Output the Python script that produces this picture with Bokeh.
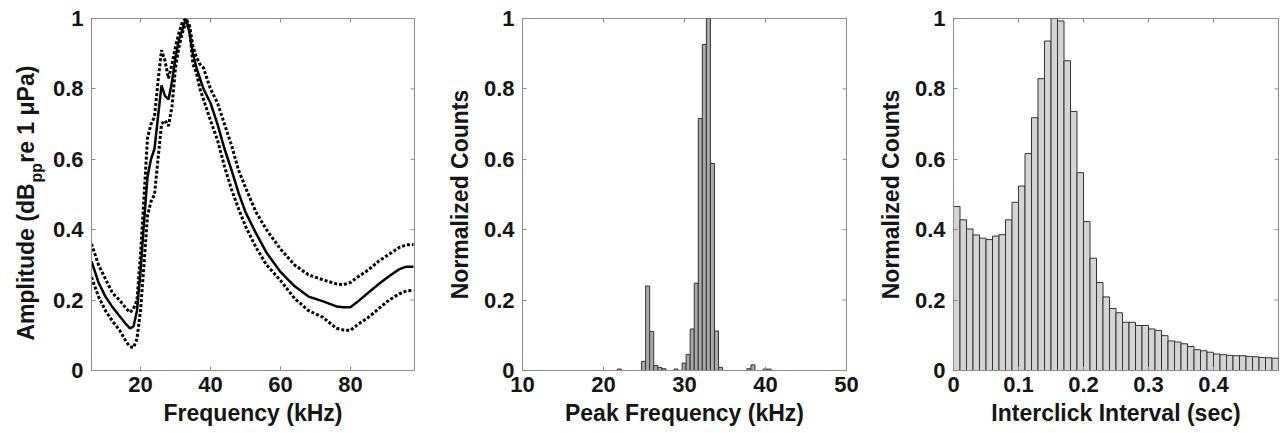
from math import pi
from bokeh.plotting import figure
from bokeh.layouts import row
from bokeh.models import Range1d, FixedTicker, CustomJSTickFormatter
from bokeh.core.properties import value
from bokeh.embed import file_html
from bokeh.resources import INLINE

# ---------------- data ----------------
freq_khz = [6, 8, 10, 12, 14, 16, 17, 18, 19, 20, 21, 22, 23, 24, 25, 26, 27, 28, 29, 30,
            31, 32, 33, 34, 35, 36, 37, 38, 40, 42, 44, 46, 48, 50, 53, 56, 60, 64, 68, 72,
            76, 78, 80, 82, 85, 88, 91, 94, 96, 98]
amp_mean = [0.31, 0.25, 0.21, 0.18, 0.155, 0.13, 0.12, 0.125, 0.17, 0.28, 0.42, 0.55, 0.60, 0.63, 0.72, 0.81, 0.78, 0.77, 0.82, 0.89,
            0.94, 0.97, 1.0, 0.96, 0.90, 0.86, 0.83, 0.80, 0.76, 0.70, 0.63, 0.57, 0.505, 0.45, 0.39, 0.335, 0.28, 0.24, 0.21, 0.197,
            0.182, 0.18, 0.18, 0.195, 0.22, 0.245, 0.268, 0.288, 0.295, 0.295]
amp_upper = [0.36, 0.30, 0.26, 0.22, 0.20, 0.175, 0.165, 0.175, 0.20, 0.33, 0.49, 0.66, 0.70, 0.72, 0.82, 0.91, 0.88, 0.83, 0.87, 0.92,
             0.96, 0.99, 1.0, 0.98, 0.92, 0.89, 0.87, 0.86, 0.80, 0.76, 0.70, 0.64, 0.57, 0.52, 0.45, 0.40, 0.345, 0.30, 0.272, 0.258,
             0.246, 0.244, 0.25, 0.265, 0.285, 0.31, 0.33, 0.35, 0.357, 0.358]
amp_lower = [0.265, 0.21, 0.17, 0.14, 0.115, 0.08, 0.068, 0.065, 0.09, 0.17, 0.30, 0.44, 0.48, 0.50, 0.60, 0.70, 0.71, 0.695, 0.75, 0.86,
             0.92, 0.96, 0.99, 0.97, 0.87, 0.845, 0.80, 0.77, 0.71, 0.655, 0.58, 0.515, 0.46, 0.41, 0.35, 0.30, 0.256, 0.205, 0.17, 0.152,
             0.12, 0.115, 0.114, 0.13, 0.15, 0.175, 0.20, 0.218, 0.226, 0.228]

peak_bin_khz = [21.95, 24.95, 25.45, 25.95, 26.45, 26.95, 27.45, 28.95, 29.95, 30.45, 30.95, 31.45,
                31.95, 32.45, 32.95, 33.45, 33.95, 34.45, 37.95, 38.45, 39.95, 40.45]
peak_counts = [0.004, 0.026, 0.24, 0.111, 0.014, 0.009, 0.005, 0.004, 0.021, 0.045, 0.118, 0.248,
               0.716, 0.926, 1.0, 0.588, 0.112, 0.009, 0.005, 0.016, 0.004, 0.004]

ici_bin_sec = [0.005, 0.015, 0.025, 0.035, 0.045, 0.055, 0.065, 0.075, 0.085, 0.095,
               0.105, 0.115, 0.125, 0.135, 0.145, 0.155, 0.165, 0.175, 0.185, 0.195,
               0.205, 0.215, 0.225, 0.235, 0.245, 0.255, 0.265, 0.275, 0.285, 0.295,
               0.305, 0.315, 0.325, 0.335, 0.345, 0.355, 0.365, 0.375, 0.385, 0.395,
               0.405, 0.415, 0.425, 0.435, 0.445, 0.455, 0.465, 0.475, 0.485, 0.495]
ici_counts = [0.466, 0.428, 0.402, 0.385, 0.376, 0.372, 0.382, 0.386, 0.428, 0.478,
              0.524, 0.616, 0.718, 0.829, 0.936, 1.0, 0.993, 0.880, 0.736, 0.562,
              0.423, 0.319, 0.250, 0.209, 0.176, 0.164, 0.137, 0.137, 0.128, 0.128,
              0.118, 0.114, 0.099, 0.084, 0.081, 0.076, 0.068, 0.059, 0.056, 0.052,
              0.047, 0.045, 0.043, 0.042, 0.042, 0.040, 0.039, 0.037, 0.036, 0.035]

y_ticks = [0, 0.2, 0.4, 0.6, 0.8, 1]
x_ticks_1 = [20, 40, 60, 80]
x_ticks_2 = [10, 20, 30, 40, 50]
x_ticks_3 = [0, 0.1, 0.2, 0.3, 0.4]

# y-axis title of panel 1, in three parts (main text, subscript, rest)
amp_title_parts = ["Amplitude (dB", "pp", "re 1 \u03bcPa)"]

# ---------------- style ----------------
FONT = "Liberation Sans"
GREY = "#8c8c8c"
TXT = "#151515"
H = 433
TOP, BOTTOM = 18, 63
fmt = CustomJSTickFormatter(code="return String(tick);")


def make_fig(width, bl, br, xr, xticks, xlabel, ylabel):
    p = figure(width=width, height=H, x_range=Range1d(*xr), y_range=Range1d(0, 1),
               output_backend="svg", toolbar_location=None,
               min_border_left=bl, min_border_right=br, min_border_top=TOP, min_border_bottom=BOTTOM,
               x_axis_label=xlabel, y_axis_label=ylabel)
    p.grid.visible = False
    p.outline_line_color = GREY
    p.outline_line_width = 1
    p.background_fill_color = "white"
    p.border_fill_color = "white"
    p.xaxis.ticker = FixedTicker(ticks=xticks)
    p.yaxis.ticker = FixedTicker(ticks=y_ticks)
    for ax in [p.xaxis[0], p.yaxis[0]]:
        ax.formatter = fmt
        ax.axis_line_color = GREY
        ax.major_tick_line_color = GREY
        ax.major_tick_in = 4
        ax.major_tick_out = 0
        ax.minor_tick_line_color = None
        ax.major_label_text_font = FONT
        ax.major_label_text_font_style = "bold"
        ax.major_label_text_font_size = "22px"
        ax.major_label_text_color = TXT
        ax.axis_label_text_font = FONT
        ax.axis_label_text_font_style = "bold"
        ax.axis_label_text_font_size = "23px"
        ax.axis_label_text_color = TXT
    p.xaxis.major_label_standoff = 6
    p.xaxis.axis_label_standoff = 5
    p.yaxis.major_label_standoff = 8
    p.yaxis.axis_label_standoff = 8
    # mirrored inward ticks on the top and right edges of the box
    x0, x1 = xr
    p.scatter(x=[x1] * len(y_ticks), y=y_ticks, marker="dash", size=8,
              line_color=GREY, line_width=1)
    p.scatter(x=xticks, y=[1] * len(xticks), marker="dash", angle=pi / 2, size=8,
              line_color=GREY, line_width=1)
    return p


# Narrow strip holding the composite y-axis title of panel 1
# (x in pixels across the strip, y on the same 0..1 scale as the panel)
LW = 48
p0 = figure(width=LW, height=H, x_range=Range1d(0, LW), y_range=Range1d(0, 1),
            x_axis_type=None, y_axis_type=None, output_backend="svg", toolbar_location=None,
            min_border_left=0, min_border_right=0, min_border_top=TOP, min_border_bottom=BOTTOM)
p0.grid.visible = False
p0.outline_line_color = None
p0.border_fill_color = "white"
tkw = dict(angle=pi / 2, text_align="left", text_baseline="middle",
           text_font=value(FONT), text_font_style="bold", text_color=TXT)
p0.text(x=[25], y=[0.085], text=[amp_title_parts[0]], text_font_size="23px", **tkw)
p0.text(x=[35.5], y=[0.534], text=[amp_title_parts[1]], text_font_size="16px", **tkw)
p0.text(x=[25], y=[0.59], text=[amp_title_parts[2]], text_font_size="23px", **tkw)

# Panel 1: amplitude spectrum
p1 = make_fig(430 - LW, 91 - LW, 16, (6, 98.3), x_ticks_1, "Frequency (kHz)", None)
p1.line(freq_khz, amp_upper, line_color="black", line_width=3, line_dash="3 2")
p1.line(freq_khz, amp_lower, line_color="black", line_width=3, line_dash="3 2")
p1.line(freq_khz, amp_mean, line_color="black", line_width=2.5)

# Panel 2: peak frequency histogram
p2 = make_fig(430, 92, 14, (10, 50), x_ticks_2, "Peak Frequency (kHz)", "Normalized Counts")
p2.vbar(x=peak_bin_khz, top=peak_counts, width=0.5, bottom=0,
        fill_color="#a9a9a9", line_color="#333333", line_width=1)

# Panel 3: interclick interval histogram
p3 = make_fig(421, 93, 3, (0, 0.5), x_ticks_3, "Interclick Interval (sec)", "Normalized Counts")
p3.vbar(x=ici_bin_sec, top=ici_counts, width=0.01, bottom=0,
        fill_color="#d4d4d4", line_color="#333333", line_width=1)

layout = row(p0, p1, p2, p3)
open("out.html", "w").write(file_html(layout, INLINE))
